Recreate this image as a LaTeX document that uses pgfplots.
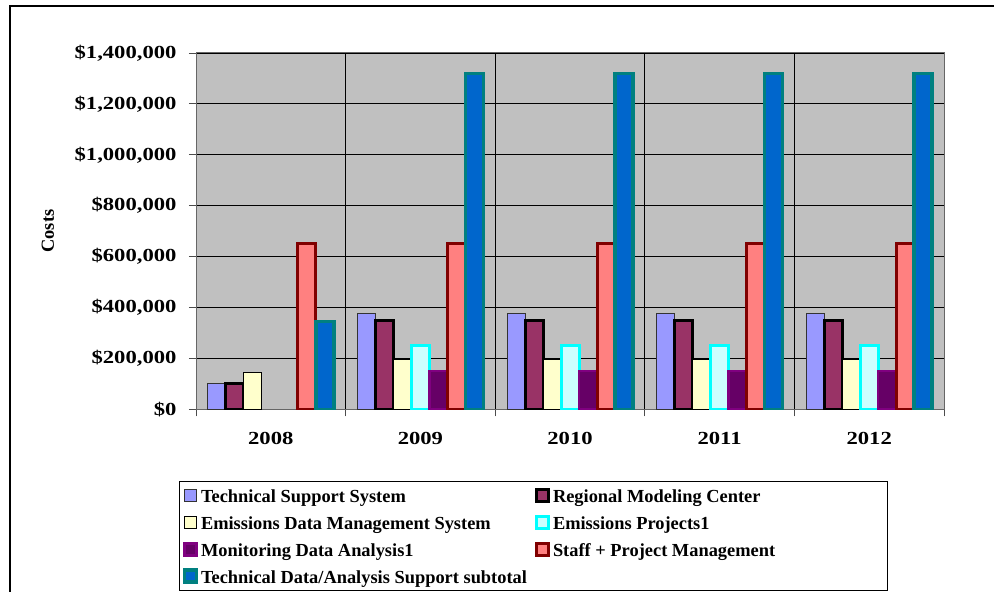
\documentclass[border=0pt]{standalone}
\usepackage{pgfplots}
\pgfplotsset{compat=1.18}
\usepackage{fontspec}
\setmainfont{Liberation Serif}
\newfontfamily\tickfont{Liberation Serif}[FakeStretch=1.23]
\definecolor{plotgray}{HTML}{C0C0C0}
\definecolor{tssfill}{HTML}{9999FF}
\definecolor{rmcfill}{HTML}{993366}
\definecolor{edmsfill}{HTML}{FFFFCC}
\definecolor{epfill}{HTML}{CCFFFF}
\definecolor{epdraw}{HTML}{00FFFF}
\definecolor{mdafill}{HTML}{660066}
\definecolor{mdadraw}{HTML}{800080}
\definecolor{stfill}{HTML}{FF8080}
\definecolor{stdraw}{HTML}{800000}
\definecolor{subfill}{HTML}{0066CC}
\definecolor{subdraw}{HTML}{008080}
\pgfplotsset{sq/.style={legend image code/.code={\draw[##1] (0pt,-6pt) rectangle (12pt,6pt);}}}
\begin{document}
\begin{tikzpicture}[x=1pt,y=1pt]
\useasboundingbox (0,0) rectangle (994,592);
\draw[line width=1.2pt] (10,-20) rectangle (1020,586);
\begin{axis}[
  at={(196pt,182.7pt)}, anchor=south west,
  scale only axis, width=748pt, height=356.3pt,
  ybar=0pt, bar width=18pt,
  xmin=-0.5, xmax=4.5, ymin=0, ymax=1400000,
  xtick={-0.5,0.5,1.5,2.5,3.5,4.5},
  xticklabels={2008,2009,2010,2011,2012},
  x tick label as interval=true,
  xmajorgrids, ymajorgrids,
  major grid style={black, line width=0.8pt},
  ytick={0,200000,400000,600000,800000,1000000,1200000,1400000},
  yticklabels={{\$0},{\$200,000},{\$400,000},{\$600,000},{\$800,000},{\$1,000,000},{\$1,200,000},{\$1,400,000}},
  scaled y ticks=false,
  xtick pos=bottom, ytick pos=left,
  tick align=outside, major tick length=7pt,
  tick style={black!70, line width=0.8pt},
  axis background/.style={fill=plotgray},
  axis line style={black!60, line width=1pt},
  ticklabel style={font=\tickfont\fontsize{18.4}{20}\selectfont\bfseries},
  xticklabel style={yshift=-12pt},
  yticklabel style={xshift=-9pt},
  ylabel={Costs},
  ylabel style={font=\fontsize{18.4}{20}\selectfont\bfseries, at={(axis description cs:-0.198,0.5)}, anchor=center},
  legend columns=2,
  legend cell align=left,
  legend style={at={(axis description cs:-0.0227,-0.2012)}, anchor=north west,
    draw=black, line width=1pt, inner sep=3pt,
    font=\fontsize{18.4}{20}\selectfont\bfseries,
    row sep=3.7pt,
    nodes={text height=15.5pt, text depth=1.5pt, inner sep=3pt},
    /tikz/every even column/.append style={column sep=5pt},
    /tikz/column 4/.style={text width=328pt, align=flush left}},
]
\addplot[sq, fill=tssfill, draw=black!80, line width=1pt] coordinates {(0,100000) (1,375000) (2,375000) (3,375000) (4,375000)};
\addlegendentry{Technical Support System}
\addplot[sq, fill=rmcfill, draw=black, line width=3pt] coordinates {(0,100000) (1,350000) (2,350000) (3,350000) (4,350000)};
\addlegendentry{Regional Modeling Center}
\addplot[sq, fill=edmsfill, draw=black, line width=1pt] coordinates {(0,145000) (1,195000) (2,195000) (3,195000) (4,195000)};
\addlegendentry{Emissions Data Management System}
\addplot[sq, fill=epfill, draw=epdraw, line width=3pt] coordinates {(1,250000) (2,250000) (3,250000) (4,250000)};
\addlegendentry{Emissions Projects1}
\addplot[sq, fill=mdafill, draw=mdadraw, line width=2.5pt] coordinates {(1,150000) (2,150000) (3,150000) (4,150000)};
\addlegendentry{Monitoring Data Analysis1}
\addplot[sq, fill=stfill, draw=stdraw, line width=3pt] coordinates {(0,650000) (1,650000) (2,650000) (3,650000) (4,650000)};
\addlegendentry{Staff + Project Management}
\addplot[sq, fill=subfill, draw=subdraw, line width=3.5pt] coordinates {(0,345000) (1,1320000) (2,1320000) (3,1320000) (4,1320000)};
\addlegendentry{Technical Data/Analysis Support subtotal}
\end{axis}
\end{tikzpicture}
\end{document}
